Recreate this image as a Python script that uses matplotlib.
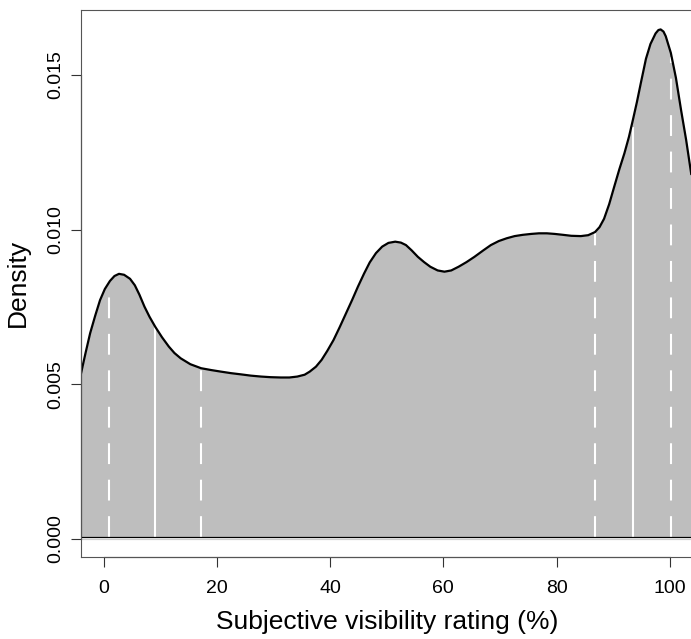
import matplotlib
matplotlib.use("Agg")
import matplotlib.pyplot as plt

plt.rcParams["font.family"] = ["Liberation Sans", "DejaVu Sans"]

# density curve: rating (%) -> density
rating = [-4.0, -3.2, -2.4, -1.5, -0.65, 0.2, 1.1, 1.9, 2.7, 3.6, 4.65, 5.5,
          6.3, 7.2, 8.1, 9.1, 10.3, 11.5, 12.5, 13.6, 15.3, 17.2, 19.0, 20.7,
          22.5, 24.3, 26.0, 27.8, 29.5, 31.3, 32.8, 34.2, 35.5, 36.4, 37.5,
          38.5, 39.5, 40.6, 41.7, 42.8, 43.9, 44.9, 46.0, 47.0, 48.1, 49.2,
          50.3, 51.5, 52.5, 53.4, 54.4, 55.5, 56.6, 57.7, 59.0, 60.2, 61.4,
          62.7, 64.1, 65.5, 67.0, 68.4, 69.8, 71.2, 72.6, 74.0, 75.5, 76.9,
          78.3, 79.7, 81.2, 82.6, 84.3, 85.6, 86.8, 87.6, 88.4, 89.3, 90.2,
          91.1, 92.0, 92.8, 93.5, 94.2, 94.9, 95.8, 96.6, 97.5, 98.0, 98.4,
          98.9, 99.3, 100.2, 101.1, 102.0, 102.9, 103.8]
density = [0.00536, 0.00602, 0.00665, 0.00722, 0.00772, 0.00808, 0.00834,
           0.00850, 0.00857, 0.00854, 0.00841, 0.00820, 0.00790, 0.00751,
           0.00718, 0.00686, 0.00652, 0.00622, 0.00601, 0.00584, 0.00565,
           0.00552, 0.00546, 0.00541, 0.00536, 0.00532, 0.00528, 0.00525,
           0.00523, 0.00522, 0.00522, 0.00525, 0.00531, 0.00541, 0.00557,
           0.00579, 0.00608, 0.00643, 0.00685, 0.00729, 0.00773, 0.00815,
           0.00858, 0.00894, 0.00924, 0.00945, 0.00957, 0.00961, 0.00958,
           0.00950, 0.00933, 0.00912, 0.00895, 0.00880, 0.00868, 0.00864,
           0.00868, 0.00880, 0.00895, 0.00912, 0.00932, 0.00950, 0.00963,
           0.00972, 0.00979, 0.00983, 0.00986, 0.00988, 0.00988, 0.00986,
           0.00983, 0.00980, 0.00979, 0.00982, 0.00992, 0.01008, 0.01035,
           0.01082, 0.01139, 0.01195, 0.01247, 0.01300, 0.01355, 0.01412,
           0.01474, 0.01552, 0.01600, 0.01634, 0.01645, 0.01647, 0.01640,
           0.01625, 0.01571, 0.01490, 0.01387, 0.01290, 0.01180]

# vertical reference lines (quantile markers) and their heights
solid_x = [9.1, 93.5]
solid_h = [0.00686, 0.01333]
dashed_x = [0.95, 17.2, 86.8, 100.2]
dashed_h = [0.00821, 0.00552, 0.00988, 0.01558]

xticks = [0, 20, 40, 60, 80, 100]
yticks = [0.0, 0.005, 0.010, 0.015]
ytick_labels = ["0.000", "0.005", "0.010", "0.015"]

W, H = 691, 639
fig = plt.figure(figsize=(W / 100, H / 100), dpi=100)
ax = fig.add_axes([81.3 / W, 1 - 556.7 / H, 1 - 81.3 / W, (556.7 - 10) / H])
ax.set_xlim(-3.96, 103.76)
ax.set_ylim(-0.000572, 0.017098)

base = 0.00005
ax.fill_between(rating, base, density, color="#bebebe", lw=0)
for x, h in zip(solid_x, solid_h):
    ax.plot([x, x], [base, h], color="white", lw=1.5, solid_capstyle="butt")
for x, h in zip(dashed_x, dashed_h):
    ax.plot([x, x], [base, h], color="white", lw=1.5, dashes=(10, 7.5),
            solid_capstyle="butt", dash_capstyle="butt")
ax.plot(rating, density, color="black", lw=1.6)
ax.axhline(base, color="black", lw=0.9)
ax.axhline(0, color="#d0d0d0", lw=0.9)

for s in ax.spines.values():
    s.set_color("#555555")
    s.set_linewidth(0.8)
ax.spines["right"].set_visible(False)
# axis lines drawn over the box, R style
ax.plot([0, 100], [ax.get_ylim()[0]] * 2, color="black", lw=0.8, clip_on=False)
ax.plot([ax.get_xlim()[0]] * 2, [0, 0.015], color="black", lw=0.8, clip_on=False)

ax.set_xticks(xticks)
ax.set_xticklabels([str(t) for t in xticks])
ax.set_yticks(yticks)
ax.set_yticklabels(ytick_labels, rotation=90, va="center")
ax.tick_params(axis="both", length=7, width=0.8, color="#333333", labelsize=14)
ax.tick_params(axis="x", pad=10)
ax.tick_params(axis="y", pad=5)

fig.text(387 / W, 1 - 622 / H, "Subjective visibility rating (%)", ha="center",
         va="center", fontsize=19)
fig.text(18 / W, 1 - 283 / H, "Density", ha="center", va="center",
         rotation=90, fontsize=19)

fig.savefig("out.png", dpi=100)
